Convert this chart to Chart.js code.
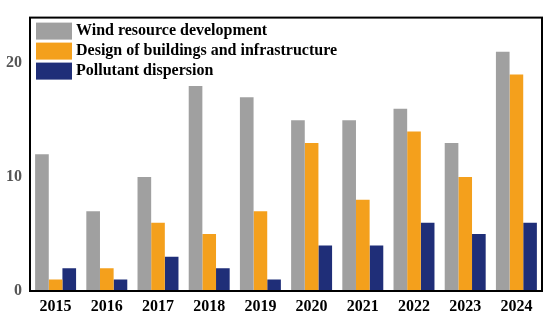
<!DOCTYPE html>
<html>
<head>
<meta charset="utf-8">
<script src="https://cdn.jsdelivr.net/npm/chart.js@4/dist/chart.umd.min.js"></script>
<style>
  html, body { margin: 0; padding: 0; background: #fff; }
  #wrap { width: 550px; height: 320px; }
</style>
</head>
<body>
<div id="wrap"><canvas id="c" width="550" height="320"></canvas></div>
<script>
const years = ['2015','2016','2017','2018','2019','2020','2021','2022','2023','2024'];
const windResource = [12, 7, 10, 18, 17, 15, 15, 16, 13, 21];
const buildingsDesign = [1, 2, 6, 5, 7, 13, 8, 14, 10, 19];
const pollutantDispersion = [2, 1, 3, 2, 1, 4, 4, 6, 5, 6];
const seriesNames = ['Wind resource development', 'Design of buildings and infrastructure', 'Pollutant dispersion'];
const yTicks = [0, 10, 20];

const FONT = '"Liberation Serif", "Times New Roman", serif';

const frameAndLegend = {
  id: 'frameAndLegend',
  afterDraw(chart) {
    const ctx = chart.ctx;
    const a = chart.chartArea;
    ctx.save();
    ctx.strokeStyle = '#000';
    ctx.lineWidth = 2;
    ctx.strokeRect(a.left, a.top, a.right - a.left, a.bottom - a.top);
    // legend inside the plot area
    ctx.font = 'bold 16px ' + FONT;
    ctx.textBaseline = 'middle';
    chart.data.datasets.forEach((ds, i) => {
      const y = a.top + 5 + i * 20;
      ctx.fillStyle = ds.backgroundColor;
      ctx.fillRect(a.left + 6, y, 36, 17);
      ctx.fillStyle = '#000';
      ctx.fillText(ds.label, a.left + 46, y + 8.5);
    });
    ctx.restore();
  }
};

new Chart(document.getElementById('c'), {
  type: 'bar',
  data: {
    labels: years,
    datasets: [
      { label: seriesNames[0], data: windResource, backgroundColor: '#a0a0a0' },
      { label: seriesNames[1], data: buildingsDesign, backgroundColor: '#f4a01c' },
      { label: seriesNames[2], data: pollutantDispersion, backgroundColor: '#1f2e78' }
    ]
  },
  options: {
    responsive: false,
    animation: false,
    layout: { padding: { top: 11, right: 8, left: 0, bottom: 0 } },
    datasets: { bar: { categoryPercentage: 0.8, barPercentage: 1.0 } },
    plugins: { legend: { display: false }, tooltip: { enabled: false } },
    scales: {
      x: {
        grid: { display: false, drawTicks: false },
        border: { display: false },
        ticks: { color: '#000', font: { family: FONT, size: 16, weight: 'bold' }, padding: 6 },
        afterFit(s) { s.height = 29; }
      },
      y: {
        min: 0, max: 24,
        grid: { display: false, drawTicks: false },
        border: { display: false },
        afterBuildTicks(s) { s.ticks = yTicks.map(v => ({ value: v })); },
        ticks: { color: '#555', font: { family: FONT, size: 16, weight: 'bold' }, padding: 8 },
        afterFit(s) { s.width = 30; }
      }
    }
  },
  plugins: [frameAndLegend]
});
</script>
</body>
</html>
